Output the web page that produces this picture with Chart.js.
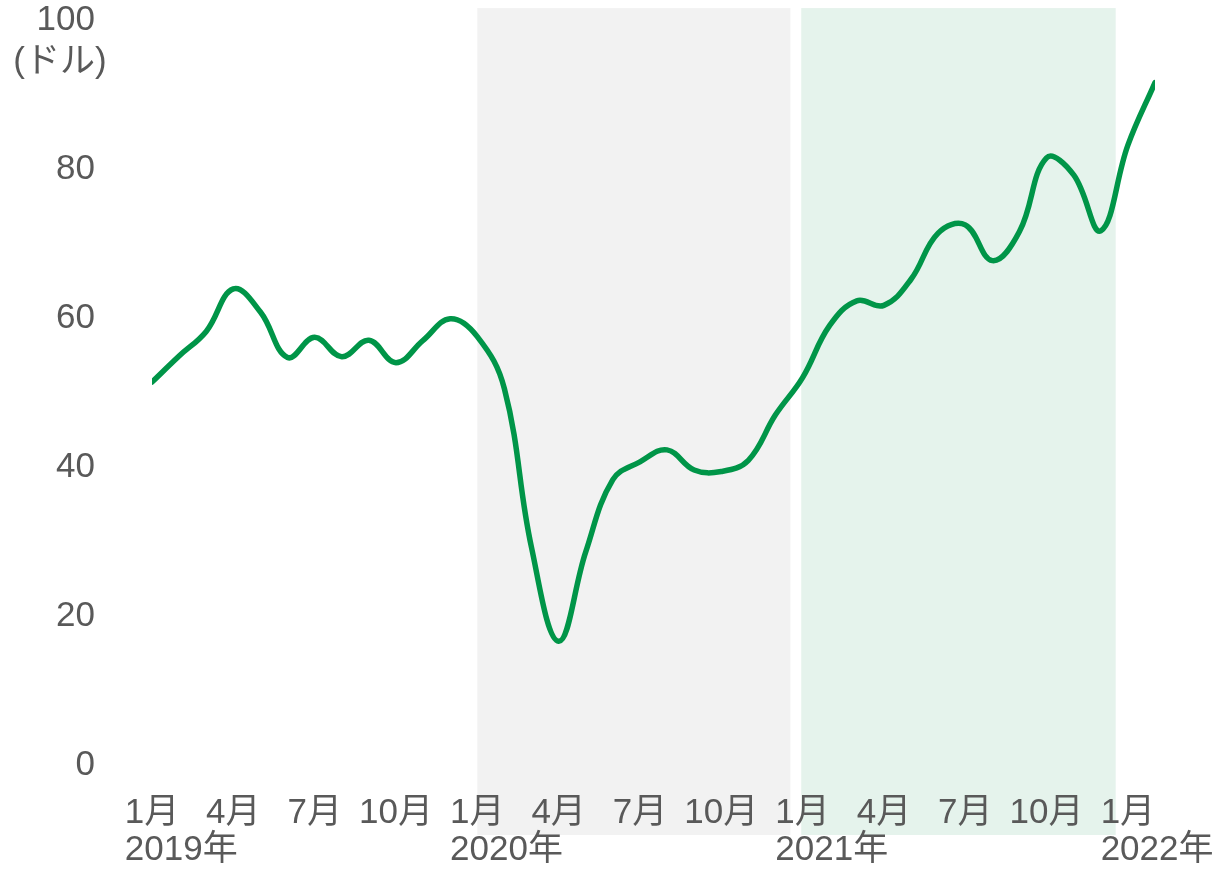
<!DOCTYPE html>
<html>
<head>
<meta charset="utf-8">
<script src="https://cdn.jsdelivr.net/npm/chart.js@4"></script>
<style>
  html, body { margin: 0; padding: 0; background: #ffffff; }
  #wrap { width: 1217px; height: 871px; }
</style>
</head>
<body>
<div id="wrap"><canvas id="priceChart" width="1217" height="871"></canvas></div>
<script>
const FONT = "'Liberation Sans', Arial, 'Noto Sans CJK JP', sans-serif";
const TEXT_COLOR = '#595959';
const FONT_SIZE = 35;

// monthly price, Jan 2019 .. Feb 2022 (USD)
const prices = [
  51.4, 54.9, 58.2, 63.9, 60.8, 54.7, 57.4, 54.8, 57.0, 54.0, 57.0, 59.9,
  57.5, 50.5, 29.2, 16.6, 28.6, 38.3, 40.7, 42.3, 39.6, 39.4, 40.9, 47.0,
  52.0, 59.0, 62.3, 61.7, 65.2, 71.4, 72.5, 67.7, 71.6, 81.5, 79.2, 71.7,
  83.2, 91.6
];
const monthNames = ['1月', '4月', '7月', '10月'];
const yearLabels = ['2019年', '2020年', '2021年', '2022年'];
const yTicks = [0, 20, 40, 60, 80, 100];
const yUnit = '(ドル)';

// shaded periods in month-index units [from, to, colour]
const bands = [
  [12, 23.55, '#f2f2f2'],
  [23.95, 35.55, '#e5f3ec']
];

const points = prices.map((v, i) => ({ x: i, y: v }));

// drawn before the axes so the tick labels sit on top
const bandPlugin = {
  id: 'bands',
  beforeDraw(chart) {
    const ctx = chart.ctx;
    const xs = chart.scales.x, ys = chart.scales.y;
    const top = ys.getPixelForValue(101.6);
    const bottom = ys.getPixelForValue(-9.4);
    ctx.save();
    bands.forEach(b => {
      const x1 = xs.getPixelForValue(b[0]);
      const x2 = xs.getPixelForValue(b[1]);
      ctx.fillStyle = b[2];
      ctx.fillRect(x1, top, x2 - x1, bottom - top);
    });
    ctx.restore();
  }
};

const extraText = {
  id: 'extraText',
  afterDraw(chart) {
    const ctx = chart.ctx;
    const xs = chart.scales.x;
    ctx.save();
    ctx.font = FONT_SIZE + 'px ' + FONT;
    ctx.fillStyle = TEXT_COLOR;
    ctx.textBaseline = 'middle';
    // year under each January tick, left aligned with the month label
    const half = ctx.measureText('1月').width / 2;
    ctx.textAlign = 'left';
    yearLabels.forEach((y, k) => {
      const px = xs.getPixelForValue(k * 12);
      ctx.fillText(y, px - half, 850);
    });
    // unit under the top y label
    ctx.textAlign = 'center';
    ctx.fillText(yUnit, 60, 62);
    ctx.restore();
  }
};

new Chart(document.getElementById('priceChart'), {
  type: 'line',
  data: {
    datasets: [{
      data: points,
      borderColor: '#009548',
      borderWidth: 5.5,
      borderCapStyle: 'round',
      tension: 0.4,
      pointRadius: 0,
      fill: false
    }]
  },
  options: {
    responsive: false,
    animation: false,
    events: [],
    layout: { padding: { top: 20, right: 62, left: 0, bottom: 0 } },
    plugins: { legend: { display: false }, tooltip: { enabled: false } },
    scales: {
      x: {
        type: 'linear',
        min: 0,
        max: 37,
        grid: { display: false, drawTicks: false },
        border: { display: false },
        afterFit: s => { s.height = 106; s.paddingLeft = 0; s.paddingRight = 0; },
        afterBuildTicks: s => {
          const t = [];
          for (let v = 0; v <= 36; v += 3) t.push({ value: v });
          s.ticks = t;
        },
        ticks: {
          autoSkip: false,
          maxRotation: 0,
          padding: 27,
          color: TEXT_COLOR,
          font: { family: FONT, size: FONT_SIZE },
          callback: v => monthNames[(v / 3) % 4]
        }
      },
      y: {
        min: 0,
        max: 100,
        grid: { display: false, drawTicks: false },
        border: { display: false },
        afterFit: s => { s.width = 152; s.paddingTop = 0; s.paddingBottom = 0; },
        afterBuildTicks: s => { s.ticks = yTicks.map(v => ({ value: v })); },
        ticks: {
          padding: 57,
          color: TEXT_COLOR,
          font: { family: FONT, size: FONT_SIZE }
        }
      }
    }
  },
  plugins: [bandPlugin, extraText]
});
</script>
</body>
</html>
